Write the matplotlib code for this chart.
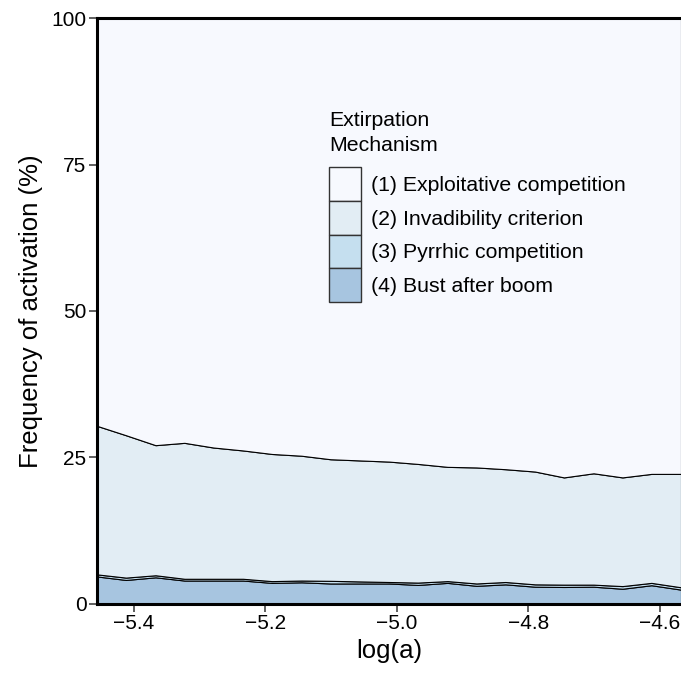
import matplotlib
matplotlib.use("Agg")
import matplotlib.pyplot as plt
from matplotlib.patches import Patch

plt.rcParams["font.family"] = ["Liberation Sans", "DejaVu Sans"]

# log(a) sample positions
log_a = [-5.456, -5.412, -5.367, -5.323, -5.279, -5.234, -5.190, -5.145,
         -5.101, -5.057, -5.012, -4.968, -4.923, -4.879, -4.835, -4.790,
         -4.746, -4.701, -4.657, -4.613, -4.568]

# frequency of activation (%) per mechanism
bust_after_boom = [4.7, 4.1, 4.55, 4.0, 4.0, 4.0, 3.6, 3.7, 3.5, 3.5, 3.5,
                   3.25, 3.6, 3.1, 3.35, 2.95, 2.9, 2.95, 2.6, 3.2, 2.45]
pyrrhic = [0.35, 0.4, 0.35, 0.3, 0.3, 0.3, 0.3, 0.3, 0.45, 0.35, 0.25,
           0.4, 0.3, 0.4, 0.4, 0.4, 0.4, 0.35, 0.45, 0.4, 0.4]
invadibility = [25.35, 24.3, 22.2, 23.2, 22.4, 21.9, 21.7, 21.3, 20.75, 20.65,
                20.55, 20.25, 19.5, 19.8, 19.25, 19.25, 18.3, 19.0, 18.55,
                18.6, 19.35]
exploitative = [69.6, 71.2, 72.9, 72.5, 73.3, 73.8, 74.4, 74.7, 75.3, 75.5,
                75.7, 76.1, 76.6, 76.7, 77.0, 77.4, 78.4, 77.7, 78.4, 77.8, 77.8]

labels = ["(1) Exploitative competition", "(2) Invadibility criterion",
          "(3) Pyrrhic competition", "(4) Bust after boom"]
colors = ["#F7F9FE", "#E2EDF4", "#C5DFEF", "#A7C5E0"]

xticks = [-5.4, -5.2, -5.0, -4.8, -4.6]
xticklabels = ["\u22125.4", "\u22125.2", "\u22125.0", "\u22124.8", "\u22124.6"]
yticks = [0, 25, 50, 75, 100]

fig = plt.figure(figsize=(6.81, 6.80), dpi=100)
ax = fig.add_axes([0.1424, 0.1118, 0.8576, 0.8617])

# stack from bottom: (4), (3), (2), (1)
ax.stackplot(log_a, bust_after_boom, pyrrhic, invadibility, exploitative,
             colors=colors[::-1], edgecolor="black", linewidth=0.8)

ax.set_xlim(-5.456, -4.568)
ax.set_ylim(0, 100)
ax.set_xticks(xticks)
ax.set_xticklabels(xticklabels)
ax.set_yticks(yticks)

ax.tick_params(direction="out", length=5.5, width=1.1, color="#333333",
               labelsize=15, labelcolor="black", pad=2)
for side in ["left", "bottom", "top"]:
    ax.spines[side].set_linewidth(2.2)
    ax.spines[side].set_color("black")
ax.spines["right"].set_visible(False)

ax.set_xlabel("log(a)", fontsize=18.5, labelpad=4)
ax.set_ylabel("Frequency of activation (%)", fontsize=18.5, labelpad=6)

# legend title drawn separately so its spacing can match
ax.text(0.397, 0.842, "Extirpation\nMechanism", transform=ax.transAxes,
        ha="left", va="top", fontsize=15.3, linespacing=1.4)

handles = [Patch(facecolor=c, edgecolor="#333333", linewidth=1.0) for c in colors]
leg = ax.legend(handles, labels, loc="upper left",
                bbox_to_anchor=(0.397, 0.745),
                frameon=False, fontsize=15.3,
                handlelength=1.5, handleheight=2.06, labelspacing=0.0,
                handletextpad=0.47, borderaxespad=0, borderpad=0)

fig.savefig("out.png", dpi=100)
